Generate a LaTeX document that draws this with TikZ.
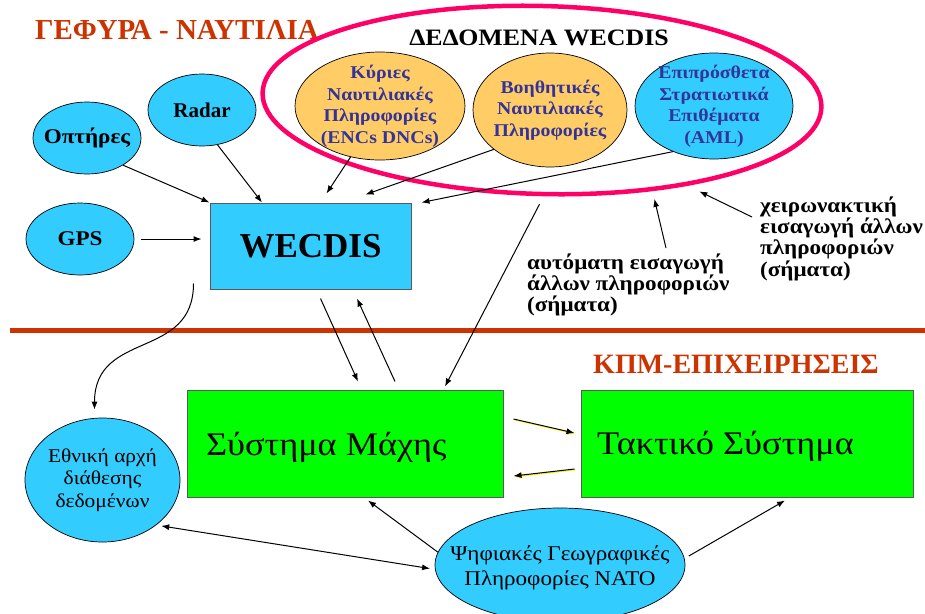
\documentclass[tikz,border=0pt]{standalone}
\usepackage{fontspec}
\setmainfont{Liberation Serif}
\newfontfamily\gk[FakeStretch=1.1]{Liberation Serif}
\usetikzlibrary{shapes.geometric,arrows.meta}
\definecolor{cyanf}{HTML}{33CCFF}
\definecolor{orangef}{HTML}{FFCC66}
\definecolor{greenf}{HTML}{00FF00}
\definecolor{bluet}{HTML}{333399}
\definecolor{redt}{HTML}{CC3300}
\definecolor{pinkl}{HTML}{FF0066}
\newcommand\fsz[2]{\fontsize{#1}{#2}\selectfont}
\begin{document}
\begin{tikzpicture}[x=1pt,y=-1pt,
  ell/.style={ellipse,draw=black,line width=0.7pt,inner sep=0pt},
  box/.style={rectangle,draw=black!65,line width=1pt,inner sep=0pt},
  arr/.style={-{Latex[length=8pt,width=6pt]},line width=1pt},
  darr/.style={{Latex[length=8pt,width=6pt]}-{Latex[length=8pt,width=6pt]},line width=1pt},
  yarr/.style={arr,preaction={draw=yellow,line width=1.2pt,-{Latex[length=8pt,width=6pt]},transform canvas={shift={(0.8pt,-0.8pt)}}}},
  topt/.style={font=\gk\bfseries\fsz{18}{21.5},text=bluet,align=center},
  boldt/.style={font=\gk\bfseries\fsz{21}{24}},
  lbl/.style={font=\gk\bfseries\fsz{21}{18.5},align=left,inner sep=0pt,anchor=north west}]
\useasboundingbox (0,0) rectangle (925,613);

% titles
\node[font=\bfseries\fsz{29}{30},text=redt] (t1) at (177,30) {ΓΕΦΥΡΑ - ΝΑΥΤΙΛΙΑ};
\node[font=\gk\bfseries\fsz{23.5}{24}] (t2) at (539,38) {ΔΕΔΟΜΕΝΑ WECDIS};
\node[font=\bfseries\fsz{28}{30},text=redt] (t3) at (736,364) {ΚΠΜ-ΕΠΙΧΕΙΡΗΣΕΙΣ};

% big data ellipse
\node[ellipse,draw=pinkl,line width=4.5pt,minimum width=559pt,minimum height=188pt,inner sep=0pt,rotate=-1.5] (big) at (542,100) {};

% data ellipses
\node[ell,fill=orangef,minimum width=170pt,minimum height=108pt,
  label={[topt]center:{Κύριες\\Ναυτιλιακές\\Πληροφορίες\\(ENCs DNCs)}}] (kyr) at (380,106) {};
\node[ell,fill=orangef,minimum width=154pt,minimum height=114pt,
  label={[topt]center:{Βοηθητικές\\Ναυτιλιακές\\Πληροφορίες}}] (voi) at (550,110) {};
\node[ell,fill=cyanf,minimum width=158pt,minimum height=106pt,
  label={[topt]center:{Επιπρόσθετα\\Στρατιωτικά\\Επιθέματα\\(AML)}}] (epi) at (714,106) {};

% sensors
\node[ell,fill=cyanf,minimum width=108pt,minimum height=72pt,label={[boldt]center:Οπτήρες}] (ops) at (87,138) {};
\node[ell,fill=cyanf,minimum width=108pt,minimum height=72pt,label={[font=\bfseries\fsz{21}{24}]center:Radar}] (rad) at (202,110) {};
\node[ell,fill=cyanf,minimum width=108pt,minimum height=72pt,label={[boldt]center:GPS}] (gps) at (80,239) {};

% WECDIS
\node[box,fill=cyanf,minimum width=201pt,minimum height=86pt,font=\bfseries\fsz{35}{38}] (wec) at (310.5,246) {WECDIS};

% separator
\draw[redt,line width=5pt] (10,330) -- (925,330);

% systems
\node[box,fill=greenf,minimum width=316pt,minimum height=107pt,
  label={[anchor=west,xshift=16pt,yshift=-4pt,font=\gk\fsz{33}{36}]west:Σύστημα Μάχης}] (mach) at (345,443.5) {};
\node[box,fill=greenf,minimum width=332pt,minimum height=107pt,
  label={[anchor=west,xshift=13pt,yshift=-3pt,font=\gk\fsz{33}{36}]west:Τακτικό Σύστημα}] (tak) at (747,443.5) {};

\node[ell,fill=cyanf,minimum width=155pt,minimum height=124pt,
  label={[align=center,font=\gk\fsz{19.5}{22.5}]center:{Εθνική αρχή\\διάθεσης\\δεδομένων}}] (eth) at (102.5,480) {};
\node[ell,fill=cyanf,minimum width=250pt,minimum height=114pt,
  label={[align=center,font=\gk\fsz{21}{24.5},yshift=-3pt]center:{Ψηφιακές Γεωγραφικές\\Πληροφορίες NATO}}] (psi) at (560,565) {};

% labels
\node[lbl] (auto) at (527,254) {αυτόματη εισαγωγή\\άλλων πληροφοριών\\(σήματα)};
\node[lbl] (man) at (760,197) {χειρωνακτική\\εισαγωγή άλλων\\πληροφοριών\\(σήματα)};

% arrows into WECDIS
\draw[arr] (ops.-37) -- (wec.north west);
\draw[arr] (rad.-66) -- ([xshift=52.5pt]wec.north west);
\draw[arr] (kyr.-120) -- ([xshift=117pt,yshift=9pt]wec.north west);
\draw[arr] (voi.-145) -- ([xshift=156pt,yshift=8pt]wec.north west);
\draw[arr] (epi.-132) -- ([xshift=10pt]wec.north east);
\draw[arr,shorten <=7pt,shorten >=8pt] (gps.east) -- ([yshift=7pt]wec.west);

% WECDIS <-> battle system
\draw[arr] ([xshift=10pt,yshift=-9pt]wec.south) -- ([xshift=13pt,yshift=8pt]mach.north);
\draw[arr] ([xshift=50pt,yshift=8pt]mach.north) -- ([xshift=46.5pt,yshift=-9pt]wec.south);
\draw[arr] ([yshift=-8pt]big.south) -- ([xshift=100pt,yshift=3pt]mach.north);

% curve to national authority
\draw[arr,shorten >=8pt] ([xshift=-16pt,yshift=6pt]wec.south west) .. controls +(0,77) and +(0,-88) .. ([xshift=-8pt]eth.north);

% label arrows
\draw[arr,shorten >=8pt] ([xshift=139pt,yshift=6pt]auto.north west) -- (big.-38);
\draw[arr,shorten >=13pt] ([xshift=-8pt,yshift=-20pt]man.north west) -- (big.-29);

% between systems
\draw[yarr] ([xshift=10pt,yshift=24.5pt]mach.east) -- ([xshift=-6pt,yshift=10.5pt]tak.west);
\draw[yarr] ([xshift=-6pt,yshift=-25.5pt]tak.west) -- ([xshift=10pt,yshift=-32.5pt]mach.east);

% NATO data
\draw[arr] (psi.174) -- ([xshift=23pt,yshift=-3pt]mach.south);
\draw[darr,shorten <=5pt,shorten >=5pt] (psi.182) -- (eth.-40);
\draw[arr,shorten <=5pt] (psi.3) -- ([xshift=38pt,yshift=-3pt]tak.south);
\end{tikzpicture}
\end{document}
